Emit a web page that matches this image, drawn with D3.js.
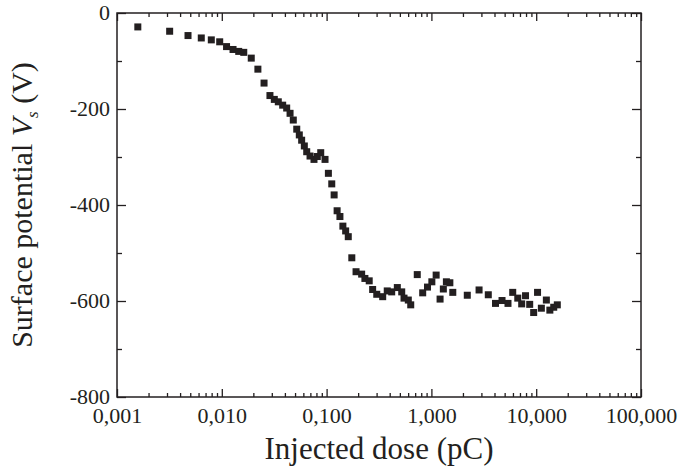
<!DOCTYPE html>
<html>
<head>
<meta charset="utf-8">
<script src="https://cdn.jsdelivr.net/npm/d3@7"></script>
<style>
  body { margin: 0; background: #fff; }
  text { font-family: "Liberation Serif", "Times New Roman", serif; fill: #231f20; }
</style>
</head>
<body>
<div id="chart"></div>
<script>
// injected dose (pC)
const dose = [
  0.00158, 0.00318, 0.00476, 0.00637, 0.00794, 0.00955, 0.0111, 0.0128, 0.0145, 0.0162,
  0.0191, 0.0221, 0.0253, 0.0288, 0.0317, 0.0346, 0.0381, 0.0416, 0.0448, 0.0481,
  0.0519, 0.0549, 0.0578, 0.0613, 0.0646, 0.0695, 0.0758, 0.0815, 0.0879, 0.0966,
  0.104, 0.112, 0.118, 0.126, 0.134, 0.143, 0.152, 0.161, 0.174, 0.191,
  0.216, 0.232, 0.255, 0.275, 0.301, 0.343, 0.379, 0.418, 0.473, 0.521,
  0.548, 0.602, 0.635, 0.733, 0.826, 0.918, 1.01, 1.11, 1.21, 1.30,
  1.39, 1.50, 1.60, 2.20, 2.85, 3.49, 4.09, 4.72, 5.38, 5.97,
  6.67, 7.27, 7.91, 8.67, 9.46, 10.3, 11.2, 12.5, 13.5, 14.7, 15.9
];
// surface potential Vs (V)
const potential = [
  -29, -38, -47, -52, -56, -60, -70, -76, -80, -82,
  -94, -117, -146, -172, -180, -185, -192, -198, -209, -223,
  -242, -254, -265, -277, -289, -298, -305, -299, -291, -305,
  -334, -356, -379, -412, -424, -444, -454, -466, -510, -539,
  -544, -553, -558, -576, -586, -591, -579, -581, -572, -581,
  -594, -598, -608, -545, -583, -571, -560, -546, -596, -575,
  -560, -562, -582, -588, -577, -587, -605, -599, -605, -582,
  -594, -606, -589, -607, -624, -582, -615, -598, -619, -613, -608
];
const xDecades = [0.001, 0.01, 0.1, 1, 10, 100];
const yTicks = [0, -200, -400, -600, -800];

const W = 678, H = 469;
const margin = { left: 117, right: 37, top: 13, bottom: 72 };
const iw = W - margin.left - margin.right;
const ih = H - margin.top - margin.bottom;
const ink = "#231f20";

const svg = d3.select("#chart").append("svg")
    .attr("width", W)
    .attr("height", H);
const g = svg.append("g")
    .attr("transform", `translate(${margin.left},${margin.top})`);

const x = d3.scaleLog().domain([0.001, 100]).range([0, iw]);
const y = d3.scaleLinear().domain([-800, 0]).range([ih, 0]);

const comma = d3.formatLocale({ decimal: ",", thousands: ".", grouping: [3], currency: ["", ""], minus: "-" });
const fmt = comma.format(".3f");
const yfmt = comma.format("d");

// minor ticks: 2..9 of each decade, and every 100 V
const xMinor = x.ticks().filter(v => !xDecades.some(d => Math.abs(d - v) / d < 1e-6));
const yMinor = d3.range(-700, 0, 200);

function styleAxis(sel) {
  sel.select(".domain").remove();
  sel.selectAll("line").attr("stroke", ink).attr("stroke-width", 1.3);
}

// bottom
g.append("g").attr("transform", `translate(0,${ih})`)
  .call(d3.axisBottom(x).tickValues(xMinor).tickSize(-4).tickFormat(""))
  .call(styleAxis);
g.append("g").attr("transform", `translate(0,${ih})`)
  .call(d3.axisBottom(x).tickValues(xDecades).tickSize(-8).tickFormat(fmt).tickPadding(16))
  .call(styleAxis)
  .call(s => s.selectAll("text").attr("font-size", 22).attr("dy", "0.45em"));
// top
g.append("g")
  .call(d3.axisTop(x).tickValues(xMinor).tickSize(-4).tickFormat(""))
  .call(styleAxis);
g.append("g")
  .call(d3.axisTop(x).tickValues(xDecades).tickSize(-8).tickFormat(""))
  .call(styleAxis);
// left
g.append("g")
  .call(d3.axisLeft(y).tickValues(yMinor).tickSize(-5).tickFormat(""))
  .call(styleAxis);
g.append("g")
  .call(d3.axisLeft(y).tickValues(yTicks).tickSize(-9).tickFormat(yfmt).tickPadding(7))
  .call(styleAxis)
  .call(s => s.selectAll("text").attr("font-size", 22).attr("dy", "0.3em"));
// right
g.append("g").attr("transform", `translate(${iw},0)`)
  .call(d3.axisRight(y).tickValues(yMinor).tickSize(-5).tickFormat(""))
  .call(styleAxis);
g.append("g").attr("transform", `translate(${iw},0)`)
  .call(d3.axisRight(y).tickValues(yTicks).tickSize(-9).tickFormat(""))
  .call(styleAxis);

// frame
g.append("rect")
  .attr("width", iw).attr("height", ih)
  .attr("fill", "none").attr("stroke", ink).attr("stroke-width", 1.5);

// points
const s = 7;
g.selectAll("rect.pt")
  .data(d3.zip(dose, potential))
  .join("rect")
    .attr("class", "pt")
    .attr("x", d => x(d[0]) - s / 2)
    .attr("y", d => y(d[1]) - s / 2)
    .attr("width", s).attr("height", s)
    .attr("fill", ink);

// axis titles
svg.append("text")
  .attr("x", margin.left + iw / 2).attr("y", 459)
  .attr("text-anchor", "middle").attr("font-size", 31)
  .text("Injected dose (pC)");

const yt = svg.append("text")
  .attr("transform", `translate(32,${margin.top + ih / 2}) rotate(-90)`)
  .attr("text-anchor", "middle").attr("font-size", 30);
yt.append("tspan").text("Surface potential ");
yt.append("tspan").attr("font-style", "italic").text("V");
yt.append("tspan").attr("font-style", "italic").attr("font-size", 17).attr("dy", 6).text("s");
yt.append("tspan").attr("dy", -6).text(" (V)");
</script>
</body>
</html>
